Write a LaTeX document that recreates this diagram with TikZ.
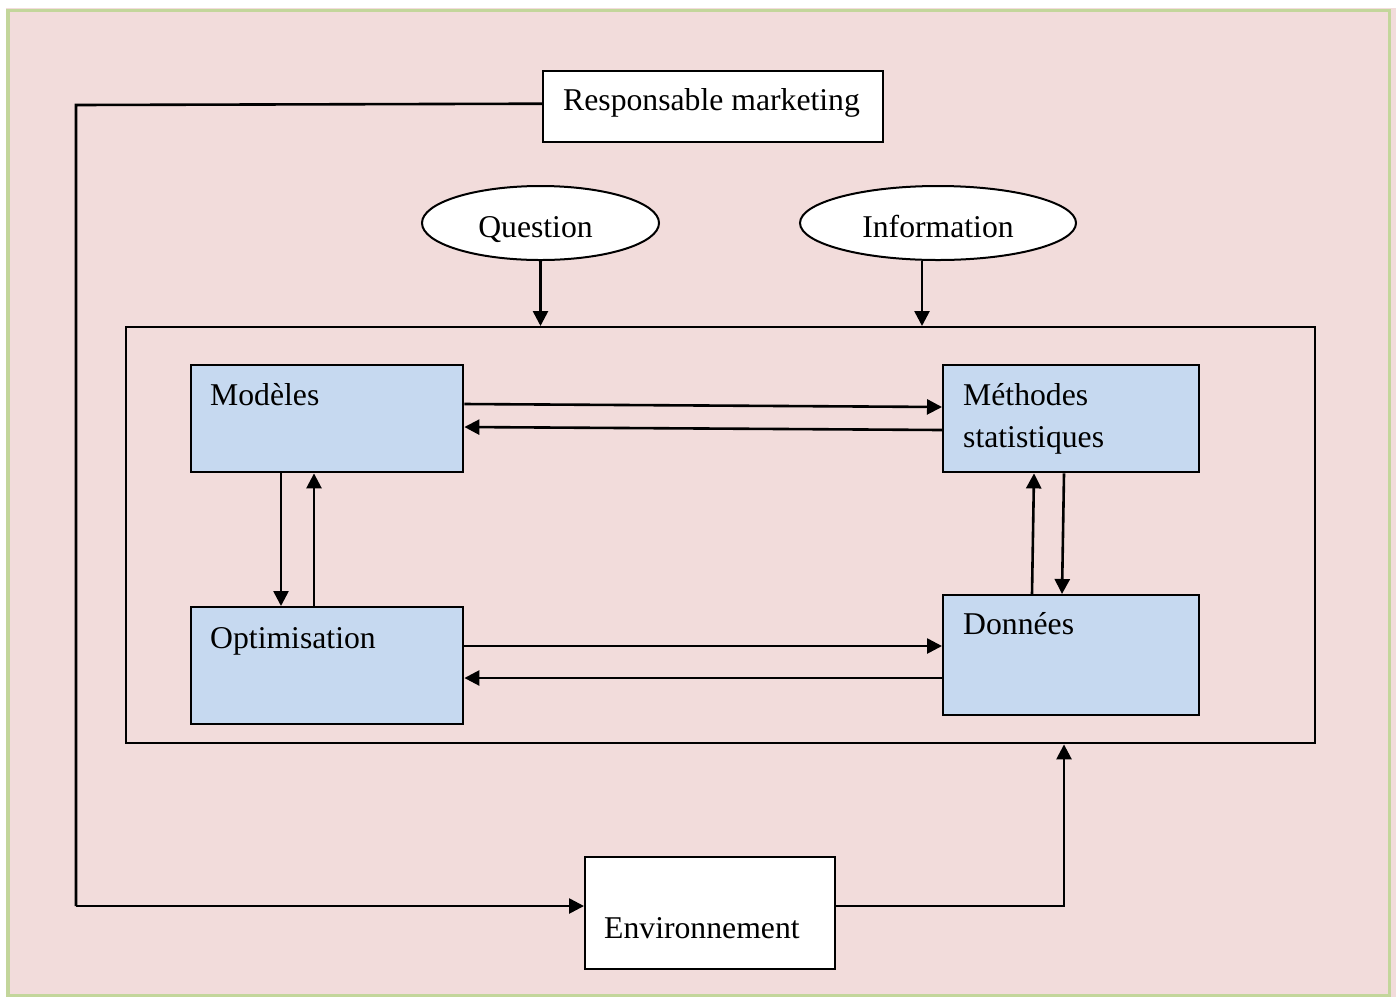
\documentclass[tikz,border=0pt]{standalone}
\usepackage{fontspec}
\setmainfont{Liberation Serif}
\usetikzlibrary{arrows.meta,shapes.geometric,calc}
\definecolor{bgpink}{HTML}{F2DCDB}
\definecolor{framegreen}{HTML}{C3D69B}
\definecolor{boxblue}{HTML}{C6D9F0}
\begin{document}
\begin{tikzpicture}[x=1pt,y=-1pt,
  box/.style={draw=black,line width=2.4pt,inner sep=0pt,anchor=north west},
  bluebox/.style={box,fill=boxblue},
  whitebox/.style={box,fill=white},
  oval/.style={draw=black,line width=2pt,fill=white,ellipse,inner sep=0pt},
  txt/.style={inner sep=0pt,anchor=base west,font=\fontsize{31.7}{42}\selectfont},
  link/.style={line width=2.6pt},
  arr/.style={link,-{Triangle[length=15pt,width=15pt]}}]
% page and frame
\useasboundingbox (0,0) rectangle (1396,997);
\fill[bgpink] (0,0) rectangle (1396,997);
\fill[white] (0,0) rectangle (1396,8);
\fill[white] (0,0) rectangle (6,997);
\draw[framegreen,line width=3.5pt,fill=bgpink] (8,10.5) rectangle (1389.5,995.5);

% boxes
\node[whitebox,minimum width=340,minimum height=71] (rm) at (542,70) {};
\node[txt] (rmt) at ([xshift=21,yshift=-40]rm.north west) {Responsable marketing};

\node[oval,minimum width=237,minimum height=74] (q) at (540.5,223) {};
\node[txt,anchor=base] (qt) at ([xshift=-5,yshift=-14]q.center) {Question};
\node[oval,minimum width=276,minimum height=74] (inf) at (938,223) {};
\node[txt,anchor=base] (inft) at ([yshift=-14]inf.center) {Information};

\node[box,minimum width=1189,minimum height=416] (big) at (125,326) {};

\node[bluebox,minimum width=272,minimum height=107] (mod) at (190,364) {};
\node[txt] (modt) at ([xshift=20,yshift=-41]mod.north west) {Modèles};

\node[bluebox,minimum width=256,minimum height=107] (met) at (942,364) {};
\node[txt] (mett) at ([xshift=21,yshift=-41]met.north west) {Méthodes};
\node[txt] (mett2) at ([xshift=21,yshift=-83]met.north west) {statistiques};

\node[bluebox,minimum width=272,minimum height=117] (opt) at (190,606) {};
\node[txt] (optt) at ([xshift=20,yshift=-42]opt.north west) {Optimisation};

\node[bluebox,minimum width=256,minimum height=120] (don) at (942,594) {};
\node[txt] (dont) at ([xshift=21,yshift=-40]don.north west) {Données};

\node[whitebox,minimum width=250,minimum height=112] (env) at (584,856) {};
\node[txt] (envt) at ([xshift=20,yshift=-82]env.north west) {Environnement};

% inputs to the system
\draw[arr] (q.south) -- (q.south |- big.north);
\draw[arr] ([xshift=-16]inf.south) -- ([xshift=-16]inf.south |- big.north);

% models <-> statistical methods
\draw[arr] ([yshift=-40]mod.north east) -- ([yshift=-43]met.north west);
\draw[arr] ([yshift=-66]met.north west) -- ([yshift=-63]mod.north east);

% models <-> optimisation
\draw[arr] ([xshift=91]mod.south west) -- ([xshift=91]opt.north west);
\draw[arr] ([xshift=124]opt.north west) -- ([xshift=124]mod.south west);

% statistical methods <-> data
\draw[arr] ([xshift=90]don.north west) -- ([xshift=92]met.south west);
\draw[arr] ([xshift=122]met.south west) -- ([xshift=120]don.north west);

% optimisation <-> data
\draw[arr] ([yshift=-40]opt.north east) -- ([yshift=-52]don.north west);
\draw[arr] ([yshift=-84]don.north west) -- ([yshift=-72]opt.north east);

% feedback loop
\coordinate (tl) at (76,105);
\coordinate (bl) at (76,906);
\coordinate (br) at (1064,906);
\draw[link] ([yshift=3]rm.west) -- (tl) -- (bl);
\draw[arr] (bl) -- (env.west |- bl);
\draw[arr] (env.east |- br) -- (br) -- (br |- big.south);
\end{tikzpicture}
\end{document}
